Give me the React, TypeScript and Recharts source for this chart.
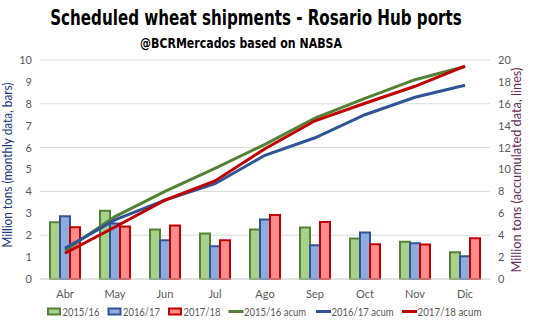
import React, { useLayoutEffect, useRef, useState } from 'react';
import { ComposedChart, Bar, Line, XAxis, YAxis, CartesianGrid, Legend } from 'recharts';

const months = ['Abr', 'May', 'Jun', 'Jul', 'Ago', 'Sep', 'Oct', 'Nov', 'Dic'];
const monthly1516 = [2.59, 3.12, 2.26, 2.08, 2.26, 2.35, 1.85, 1.7, 1.22];
const monthly1617 = [2.87, 2.53, 1.77, 1.5, 2.72, 1.54, 2.12, 1.63, 1.04];
const monthly1718 = [2.36, 2.4, 2.44, 1.77, 2.92, 2.6, 1.59, 1.57, 1.86];
const acum1516 = [2.6, 5.7, 8.0, 10.1, 12.3, 14.7, 16.5, 18.2, 19.4];
const acum1617 = [2.8, 5.4, 7.2, 8.7, 11.3, 12.9, 15.0, 16.6, 17.7];
const acum1718 = [2.35, 4.75, 7.2, 8.95, 11.9, 14.45, 16.05, 17.6, 19.45];
const leftTicks = [0, 1, 2, 3, 4, 5, 6, 7, 8, 9, 10];
const rightTicks = [0, 2, 4, 6, 8, 10, 12, 14, 16, 18, 20];

const data = months.map((m, i) => ({
  month: m,
  m1516: monthly1516[i],
  m1617: monthly1617[i],
  m1718: monthly1718[i],
  a1516: acum1516[i],
  a1617: acum1617[i],
  a1718: acum1718[i],
}));

const GREEN_FILL = '#A9D18E';
const GREEN = '#548235';
const BLUE_FILL = '#8FAADC';
const BLUE = '#2F5597';
const RED_FILL = '#FF8B8B';
const RED = '#C00000';

const FONT = "Lato, 'Liberation Sans', sans-serif";
const TITLE_FONT = "'Liberation Sans Narrow', 'DejaVu Sans Condensed', 'Liberation Sans', sans-serif";

const legendItems = [
  { label: '2015/16', kind: 'bar', fill: GREEN_FILL, stroke: GREEN, x: 47, w: 37 },
  { label: '2016/17', kind: 'bar', fill: BLUE_FILL, stroke: BLUE, x: 107.5, w: 37 },
  { label: '2017/18', kind: 'bar', fill: RED_FILL, stroke: RED, x: 168, w: 37 },
  { label: '2015/16 acum', kind: 'line', fill: GREEN, stroke: GREEN, x: 228.5, w: 62 },
  { label: '2016/17 acum', kind: 'line', fill: BLUE, stroke: BLUE, x: 316, w: 62 },
  { label: '2017/18 acum', kind: 'line', fill: RED, stroke: RED, x: 402, w: 64 },
];

const renderLegend = () => (
  <svg width={536} height={18} style={{ display: 'block' }}>
    {legendItems.map((it) => (
      <g key={it.label}>
        {it.kind === 'bar' ? (
          <rect x={it.x + 1} y={5.5} width={12} height={6} fill={it.fill} stroke={it.stroke} strokeWidth={2} />
        ) : (
          <line x1={it.x} y1={8.5} x2={it.x + 15} y2={8.5} stroke={it.stroke} strokeWidth={3} />
        )}
        <text
          x={it.x + 15.5}
          y={12.5}
          textLength={it.w}
          lengthAdjust="spacingAndGlyphs"
          fontFamily={FONT}
          fontSize={11.5}
          fill="#595959"
        >
          {it.label}
        </text>
      </g>
    ))}
  </svg>
);

function FittedText({
  cx,
  y,
  width,
  size,
  children,
}: {
  cx: number;
  y: number;
  width: number;
  size: number;
  children: string;
}) {
  const ref = useRef<SVGTextElement>(null);
  const [scale, setScale] = useState(1);
  useLayoutEffect(() => {
    if (ref.current) {
      const len = ref.current.getComputedTextLength();
      if (len > 0) setScale(width / len);
    }
  }, [width]);
  return (
    <g transform={`translate(${cx}, ${y}) scale(${scale}, 1)`}>
      <text
        ref={ref}
        x={0}
        y={0}
        textAnchor="middle"
        fontFamily={TITLE_FONT}
        fontWeight={700}
        fontSize={size}
        fill="#000"
      >
        {children}
      </text>
    </g>
  );
}

export default function App() {
  return (
    <div style={{ position: 'absolute', left: 0, top: 0, width: 536, height: 325, background: '#fff' }}>
      <ComposedChart
        width={536}
        height={325}
        data={data}
        margin={{ top: 60, right: 0, bottom: 26, left: 0 }}
        barCategoryGap="20%"
        barGap={0}
      >
        <CartesianGrid yAxisId="left" vertical={false} stroke="#D9D9D9" strokeWidth={1} />
        <XAxis
          dataKey="month"
          height={20}
          axisLine={{ stroke: '#D9D9D9' }}
          tickLine={false}
          tickSize={6}
          tickMargin={5}
          tick={{ fill: '#595959', fontSize: 11, fontFamily: FONT }}
        />
        <YAxis
          yAxisId="left"
          orientation="left"
          width={40}
          domain={[0, 10]}
          ticks={leftTicks}
          axisLine={false}
          tickLine={false}
          tickSize={6}
          tickMargin={2}
          tick={{ fill: '#595959', fontSize: 11, fontFamily: FONT }}
        />
        <YAxis
          yAxisId="right"
          orientation="right"
          width={46}
          domain={[0, 20]}
          ticks={rightTicks}
          axisLine={false}
          tickLine={false}
          tickSize={6}
          tickMargin={2}
          tick={{ fill: '#595959', fontSize: 11, fontFamily: FONT, textAnchor: 'start' }}
        />
        <Legend
          verticalAlign="middle"
          align="center"
          layout="horizontal"
          wrapperStyle={{ top: 303, left: 0, width: 536, height: 18 }}
          content={renderLegend}
        />
        <Bar yAxisId="left" dataKey="m1516" name="2015/16" fill={GREEN_FILL} stroke={GREEN} strokeWidth={2} isAnimationActive={false} />
        <Bar yAxisId="left" dataKey="m1617" name="2016/17" fill={BLUE_FILL} stroke={BLUE} strokeWidth={2} isAnimationActive={false} />
        <Bar yAxisId="left" dataKey="m1718" name="2017/18" fill={RED_FILL} stroke={RED} strokeWidth={2} isAnimationActive={false} />
        <Line yAxisId="right" type="linear" dataKey="a1516" name="2015/16 acum" stroke={GREEN} strokeWidth={3} dot={false} activeDot={false} isAnimationActive={false} />
        <Line yAxisId="right" type="linear" dataKey="a1617" name="2016/17 acum" stroke={BLUE} strokeWidth={3} dot={false} activeDot={false} isAnimationActive={false} />
        <Line yAxisId="right" type="linear" dataKey="a1718" name="2017/18 acum" stroke={RED} strokeWidth={3} dot={false} activeDot={false} isAnimationActive={false} />
      </ComposedChart>
      <svg
        width={536}
        height={325}
        style={{ position: 'absolute', left: 0, top: 0, pointerEvents: 'none' }}
      >
        <FittedText cx={256} y={25} width={412} size={21}>
          Scheduled wheat shipments - Rosario Hub ports
        </FittedText>
        <FittedText cx={241} y={47.5} width={202} size={13.5}>
          @BCRMercados based on NABSA
        </FittedText>
        <text
          x={12}
          y={165}
          transform="rotate(-90, 12, 165)"
          textAnchor="middle"
          textLength={165}
          lengthAdjust="spacingAndGlyphs"
          fontFamily={FONT}
          fontSize={12.5}
          fill="#203880"
        >
          Million tons (monthly data, bars)
        </text>
        <text
          x={521}
          y={170}
          transform="rotate(-90, 521, 170)"
          textAnchor="middle"
          textLength={205}
          lengthAdjust="spacingAndGlyphs"
          fontFamily={FONT}
          fontSize={12.5}
          fill="#6A2C5A"
        >
          Million tons (accumulated data, lines)
        </text>
      </svg>
    </div>
  );
}
